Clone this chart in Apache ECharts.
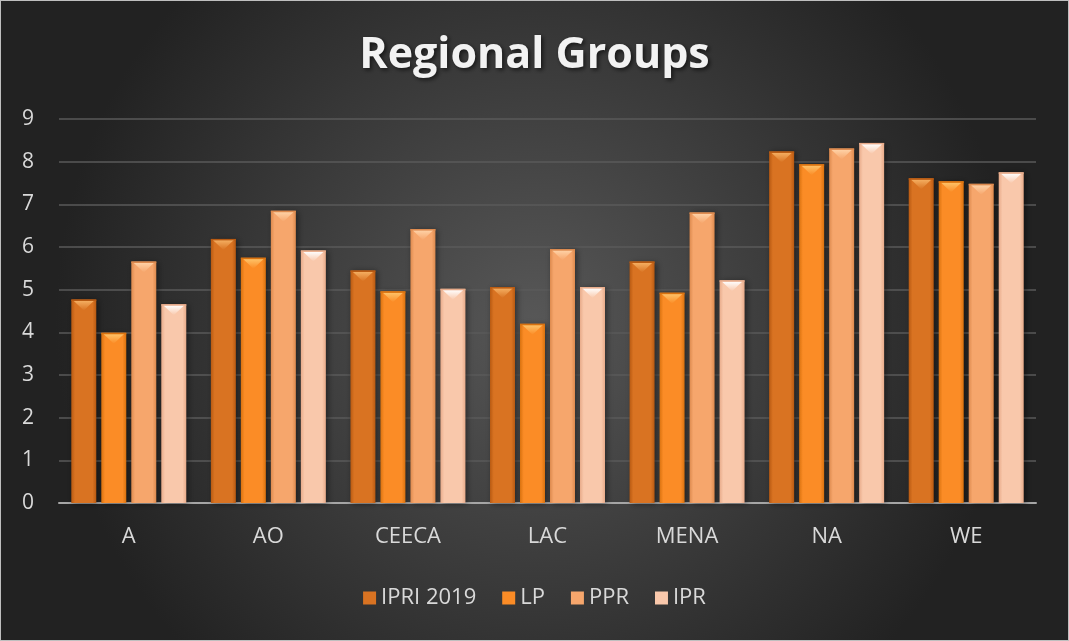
<!DOCTYPE html>
<html>
<head>
<meta charset="utf-8">
<script src="https://cdn.jsdelivr.net/npm/echarts@6/dist/echarts.min.js"></script>
<style>
  html, body { margin: 0; padding: 0; background: #fff; }
  #chart { width: 1067px; height: 639px; border: 1px solid #bfbfbf; }
</style>
</head>
<body>
<div id="chart"></div>
<script>
// Regional Groups — bevelled bar chart
var categories = ['A', 'AO', 'CEECA', 'LAC', 'MENA', 'NA', 'WE'];
var seriesNames = ['IPRI 2019', 'LP', 'PPR', 'IPR'];
var ipri2019 = [4.77, 6.19, 5.45, 5.06, 5.66, 8.24, 7.61];
var lp       = [3.99, 5.75, 4.96, 4.20, 4.93, 7.94, 7.54];
var ppr      = [5.66, 6.85, 6.42, 5.95, 6.81, 8.31, 7.48];
var ipr      = [4.66, 5.92, 5.02, 5.06, 5.22, 8.44, 7.75];
var yTicks = [0, 1, 2, 3, 4, 5, 6, 7, 8, 9];

var allValues = [ipri2019, lp, ppr, ipr];
// [dark edge, mid, light top face]
var palette = [
  ['#b85a12', '#d97322', '#f5b063'],
  ['#d9720f', '#fb8c26', '#ffc46a'],
  ['#dd8a4e', '#f6a66c', '#ffd3a8'],
  ['#e8ab8a', '#f9c8ab', '#ffffff']
];

var BAR_W = 25, GAP = 5;

function makeRender(idx) {
  var c = palette[idx];
  return function(params, api) {
    var catIdx = api.value(0);
    var val = api.value(1);
    var base = api.coord([catIdx, 0]);
    var top = api.coord([catIdx, val]);
    var x = base[0] + (idx - 1.5) * (BAR_W + GAP) - BAR_W / 2;
    var h = base[1] - top[1];
    var tri = Math.min(11, h);
    return {
      type: 'group',
      children: [{
        type: 'rect',
        shape: { x: x, y: top[1], width: BAR_W, height: h },
        style: {
          fill: new echarts.graphic.LinearGradient(0, 0, 1, 0, [
            { offset: 0, color: c[0] },
            { offset: 0.15, color: c[1] },
            { offset: 0.85, color: c[1] },
            { offset: 1, color: c[0] }
          ]),
          shadowBlur: 6, shadowColor: 'rgba(0,0,0,0.45)', shadowOffsetX: 2, shadowOffsetY: 1
        }
      }, {
        type: 'polygon',
        shape: { points: [[x + 2, top[1] + 1], [x + BAR_W - 2, top[1] + 1], [x + BAR_W / 2, top[1] + tri]] },
        style: {
          fill: new echarts.graphic.LinearGradient(0, 0, 0, 1, [
            { offset: 0, color: c[2] },
            { offset: 1, color: c[1] }
          ])
        }
      }, {
        type: 'rect',
        shape: { x: x, y: top[1], width: BAR_W, height: 1.5 },
        style: { fill: c[0] }
      }]
    };
  };
}

var chart = echarts.init(document.getElementById('chart'));
chart.setOption({
  backgroundColor: new echarts.graphic.RadialGradient(0.5, 0.5, 0.75, [
    { offset: 0, color: '#575757' },
    { offset: 1, color: '#222222' }
  ]),
  title: {
    text: 'Regional Groups',
    left: 'center',
    top: 28,
    textStyle: {
      color: '#f2f2f2', fontSize: 43, fontWeight: 'bold', fontFamily: 'Open Sans',
      textShadowColor: 'rgba(0,0,0,0.6)', textShadowBlur: 4, textShadowOffsetX: 2, textShadowOffsetY: 2
    }
  },
  legend: {
    data: seriesNames,
    bottom: 26,
    itemWidth: 13, itemHeight: 13, itemGap: 26,
    icon: 'rect',
    textStyle: { color: '#d9d9d9', fontSize: 22, fontFamily: 'Open Sans' }
  },
  grid: { left: 58, right: 32, top: 118, bottom: 137 },
  xAxis: {
    type: 'category',
    data: categories,
    axisLine: { lineStyle: { color: '#a6a6a6', width: 2 } },
    axisTick: { show: false },
    axisLabel: { color: '#d9d9d9', fontSize: 22, fontFamily: 'Open Sans', margin: 23 }
  },
  yAxis: {
    type: 'value',
    min: yTicks[0], max: yTicks[yTicks.length - 1], interval: 1,
    axisLine: { show: false },
    axisTick: { show: false },
    splitLine: { lineStyle: { color: '#5a5a5a', width: 1.5 } },
    axisLabel: { color: '#d9d9d9', fontSize: 21, fontFamily: 'Open Sans', margin: 25, align: 'right' }
  },
  series: allValues.map(function(vals, i) {
    return {
      name: seriesNames[i],
      type: 'custom',
      renderItem: makeRender(i),
      itemStyle: { color: palette[i][1] },
      encode: { x: 0, y: 1 },
      data: vals.map(function(v, k) { return [k, v]; })
    };
  })
});
</script>
</body>
</html>
